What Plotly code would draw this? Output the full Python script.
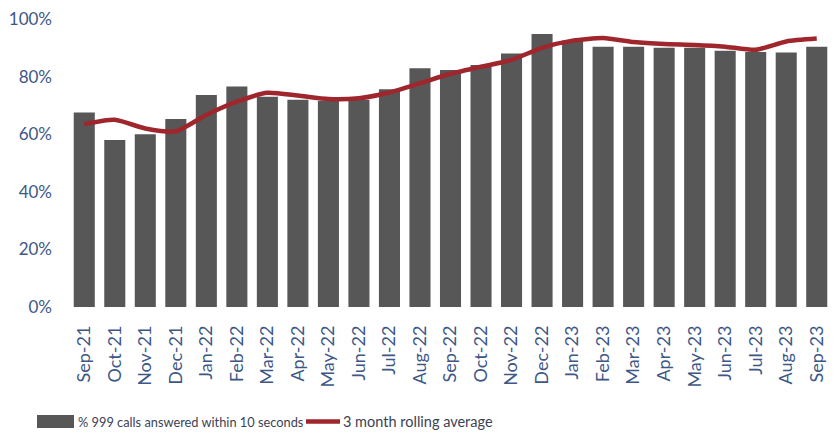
import plotly.graph_objects as go

months = ["Sep-21","Oct-21","Nov-21","Dec-21","Jan-22","Feb-22","Mar-22","Apr-22","May-22",
          "Jun-22","Jul-22","Aug-22","Sep-22","Oct-22","Nov-22","Dec-22","Jan-23","Feb-23",
          "Mar-23","Apr-23","May-23","Jun-23","Jul-23","Aug-23","Sep-23"]
pct_answered = [67.5, 58.0, 60.0, 65.3, 73.6, 76.6, 73.0, 72.0, 71.5, 72.0, 75.6, 82.9, 82.3,
                84.0, 88.0, 94.8, 92.5, 90.4, 90.4, 90.0, 90.0, 89.0, 88.5, 88.4, 90.4]
rolling_avg = [63.5, 65.0, 62.0, 61.0, 66.7, 71.3, 74.4, 73.4, 72.2, 72.5, 74.5, 77.7, 81.0,
               83.4, 85.8, 90.0, 92.5, 93.4, 92.0, 91.3, 91.0, 90.4, 89.3, 92.2, 93.2]
y_ticks = [0, 20, 40, 60, 80, 100]
y_labels = ["0%", "20%", "40%", "60%", "80%", "100%"]
legend_bar = "% 999 calls answered within 10 seconds"
legend_line = "3 month rolling average"

BAR = "#575757"
LINE = "#9e262c"
TICK = "#3d5786"
FONT = "Lato"

fig = go.Figure()
fig.add_trace(go.Bar(x=months, y=pct_answered, marker=dict(color=BAR, line=dict(width=0)),
                     name=legend_bar, showlegend=False))
fig.add_trace(go.Scatter(x=months, y=rolling_avg, mode="lines",
                         line=dict(color=LINE, width=4.5, shape="spline", smoothing=0.6),
                         name=legend_line, showlegend=False))

fig.update_layout(
    width=836, height=438,
    margin=dict(l=69, r=4, t=19, b=131),
    paper_bgcolor="white", plot_bgcolor="white",
    bargap=0.31,
    font=dict(family=FONT, color=TICK),
    xaxis=dict(tickangle=-90, tickfont=dict(size=18, color=TICK), showgrid=False,
               showline=False, ticks="", automargin=False, ticklabelstandoff=14),
    yaxis=dict(range=[0, 100], tickvals=y_ticks, ticktext=y_labels, showgrid=False,
               zeroline=False, showline=False, ticks="", tickfont=dict(size=17, color=TICK),
               automargin=False, ticklabelstandoff=16),
)

# custom legend
fig.add_shape(type="rect", xref="paper", yref="paper", x0=(37-69)/763, x1=(74-69)/763,
              y0=(307-428)/288, y1=(307-415)/288, fillcolor=BAR, line=dict(width=0))
fig.add_annotation(xref="paper", yref="paper", x=(76-69)/763, y=(307-421.5)/288,
                   text=legend_bar, showarrow=False, xanchor="left", yanchor="middle",
                   font=dict(size=12.8, color="#3b4254", family=FONT))
fig.add_shape(type="line", xref="paper", yref="paper", x0=(306-69)/763, x1=(340-69)/763,
              y0=(307-421.5)/288, y1=(307-421.5)/288, line=dict(color=LINE, width=4.5))
fig.add_annotation(xref="paper", yref="paper", x=(341-69)/763, y=(307-421.5)/288,
                   text=legend_line, showarrow=False, xanchor="left", yanchor="middle",
                   font=dict(size=14.5, color="#3b4254", family=FONT))

fig.write_html("out.html")
